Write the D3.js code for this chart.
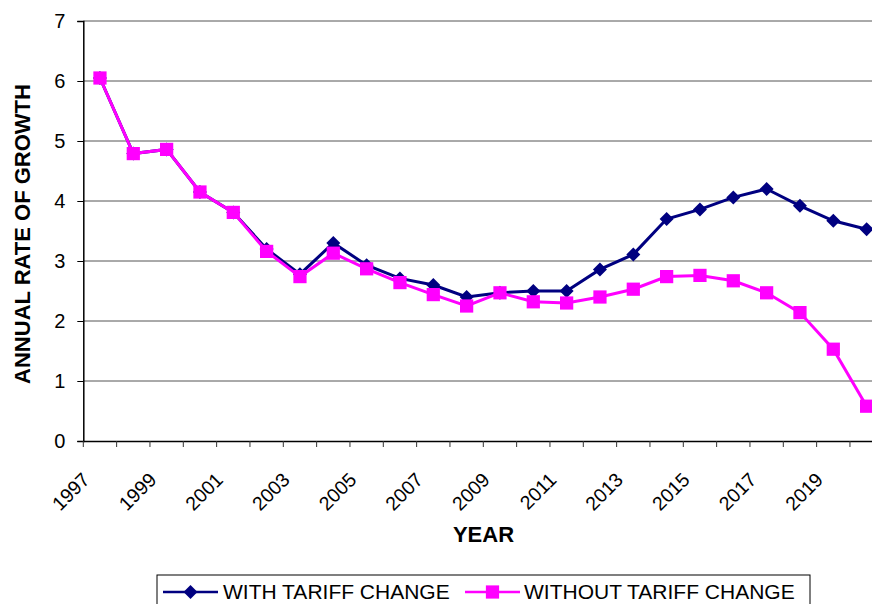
<!DOCTYPE html>
<html><head><meta charset="utf-8">
<script src="https://cdn.jsdelivr.net/npm/d3@7"></script>
<style>html,body{margin:0;padding:0;background:#fff;}svg{display:block;font-family:"Liberation Sans",Arial,sans-serif;}</style>
</head><body><div id="chart"></div>
<script>
const years = d3.range(1997, 2021).map(String);
const withTariff = [6.05,4.79,4.86,4.15,3.81,3.2,2.78,3.3,2.93,2.71,2.6,2.4,2.47,2.5,2.5,2.86,3.11,3.7,3.86,4.06,4.2,3.92,3.67,3.53];
const withoutTariff = [6.05,4.79,4.86,4.15,3.81,3.16,2.74,3.13,2.87,2.64,2.44,2.25,2.47,2.32,2.3,2.4,2.53,2.74,2.76,2.67,2.47,2.14,1.53,0.58];
const yTicks = [0,1,2,3,4,5,6,7];
const seriesNames = ["WITH TARIFF CHANGE","WITHOUT TARIFF CHANGE"];
const colors = ["#000080","#FF00FF"];

(function(){
const W = 872, H = 604;
const mLeft = 83.3, mTop = 21, mBottom = 441;
const svg = d3.select("#chart").append("svg").attr("width", W).attr("height", H);

const x = d3.scaleBand().domain(years).range([mLeft, mLeft + 800]).padding(0);
const y = d3.scaleLinear().domain([0,7]).range([mBottom, mTop]);

// gridlines
svg.append("g").selectAll("line").data(yTicks.filter(d=>d>0)).join("line")
  .attr("x1", mLeft).attr("x2", W).attr("y1", d=>y(d)).attr("y2", d=>y(d))
  .attr("stroke", "#555").attr("stroke-width", 1);

// y axis
const ya = svg.append("g").attr("transform", `translate(${mLeft},0)`)
  .call(d3.axisLeft(y).tickValues(yTicks).tickSize(6).tickPadding(12).tickFormat(d3.format("d")));
ya.select(".domain").attr("stroke", "#000").attr("stroke-width", 1.5);
ya.selectAll(".tick line").attr("stroke", "#000");
ya.selectAll("text").attr("font-size", 20).attr("fill", "#000").attr("font-family", "Liberation Sans, Arial");

// x axis
const xa = svg.append("g").attr("transform", `translate(0,${mBottom})`)
  .call(d3.axisBottom(x).tickSize(0).tickFormat(""));
xa.select(".domain").attr("stroke", "#000").attr("stroke-width", 1.5);
svg.append("g").selectAll("line").data(years).join("line")
  .attr("x1", d=>x(d)).attr("x2", d=>x(d)).attr("y1", mBottom).attr("y2", mBottom+6)
  .attr("stroke", "#333").attr("stroke-width", 1);
svg.append("g").selectAll("text").data(years.filter((d,i)=>i%2===0)).join("text")
  .attr("transform", d=>`translate(${x(d)+x.bandwidth()/2-9},${mBottom+40}) rotate(-45)`)
  .attr("text-anchor", "end").attr("font-size", 19.5).attr("fill", "#000").text(d=>d);

// axis titles
svg.append("text").attr("x", 483.5).attr("y", 542).attr("text-anchor", "middle")
  .attr("font-size", 22).attr("font-weight", "bold").text("YEAR");
svg.append("text").attr("transform", `translate(30,234) rotate(-90)`).attr("text-anchor", "middle")
  .attr("font-size", 22).attr("font-weight", "bold").text("ANNUAL RATE OF GROWTH");

const cx = d => x(d) + x.bandwidth()/2;
const line = d3.line().x((d,i)=>cx(years[i])).y(d=>y(d));
const diamond = d3.symbol().type(d3.symbolDiamond2).size(125);
const square = d3.symbol().type(d3.symbolSquare).size(175);

const plot = svg.append("g");
[withTariff, withoutTariff].forEach((vals, k) => {
  plot.append("path").datum(vals).attr("d", line).attr("fill", "none")
    .attr("stroke", colors[k]).attr("stroke-width", 3);
  plot.append("g").selectAll("path").data(vals).join("path")
    .attr("transform", (d,i)=>`translate(${cx(years[i])},${y(d)})`)
    .attr("d", k===0 ? diamond() : square()).attr("fill", colors[k]);
});

// legend
const lg = svg.append("g");
lg.append("rect").attr("x", 157).attr("y", 575).attr("width", 653).attr("height", 40)
  .attr("fill", "#fff").attr("stroke", "#000").attr("stroke-width", 1);
const legX = [[163,218,223],[465,520,524]];
seriesNames.forEach((n,k) => {
  const [a,b,t] = legX[k];
  lg.append("line").attr("x1", a).attr("x2", b).attr("y1", 592).attr("y2", 592)
    .attr("stroke", colors[k]).attr("stroke-width", 2.5);
  lg.append("path").attr("transform", `translate(${(a+b)/2},592)`)
    .attr("d", k===0 ? diamond() : square()).attr("fill", colors[k]);
  lg.append("text").attr("x", t).attr("y", 599).attr("font-size", 21).attr("fill", "#000").text(n);
});
})();
</script></body></html>
